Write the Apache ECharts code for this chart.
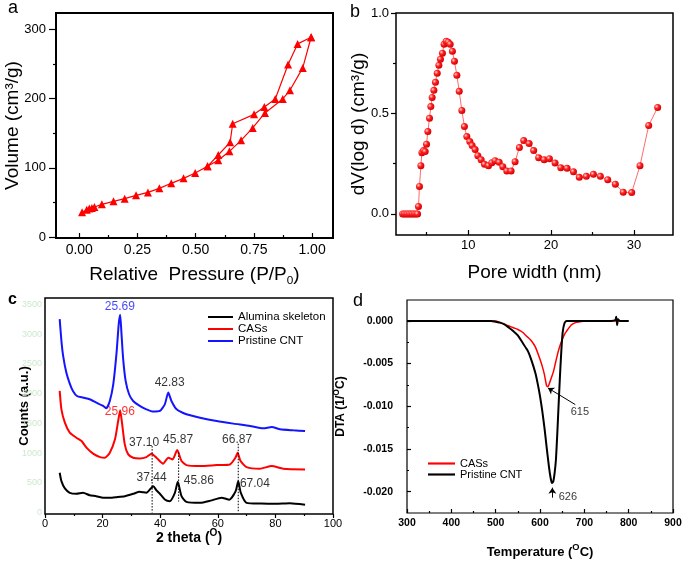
<!DOCTYPE html>
<html>
<head>
<meta charset="utf-8">
<script src="https://cdn.jsdelivr.net/npm/echarts@6/dist/echarts.min.js"></script>
<style>
html, body { margin: 0; padding: 0; background: #fff; }
#chart { width: 686px; height: 563px; }
</style>
</head>
<body>
<div id="chart"></div>
<script>
// ---- a: N2 sorption isotherm ----
const adsP = [0.012, 0.032, 0.043, 0.054, 0.065, 0.097, 0.147, 0.195, 0.244, 0.295, 0.344, 0.395, 0.448, 0.498, 0.551, 0.597, 0.645, 0.695, 0.745, 0.798, 0.874, 0.905, 0.960, 0.996];
const adsV = [35.6, 39.5, 41.0, 42.0, 43.4, 47.2, 51.5, 55.4, 60.2, 64.5, 70.3, 77.6, 84.8, 92.6, 102.2, 110.9, 123.9, 139.8, 157.7, 179.4, 199.7, 212.2, 244.6, 288.9];
const desP = [0.996, 0.938, 0.897, 0.842, 0.795, 0.751, 0.659, 0.648, 0.597, 0.551];
const desV = [288.9, 279.3, 249.4, 199.7, 188.1, 177.4, 163.8, 136.9, 118.6, 102.2];

// ---- b: pore size distribution ----
const poreW = [2.1, 2.3, 2.5, 2.7, 2.9, 3.1, 3.3, 3.5, 3.7, 3.9, 4.01, 4.13, 4.3, 4.42, 4.62, 4.82, 4.98, 5.14, 5.34, 5.5, 5.66, 5.87, 6.06, 6.27, 6.47, 6.66, 6.9, 7.1, 7.35, 7.6, 7.83, 8.1, 8.35, 8.64, 8.92, 9.24, 9.55, 9.84, 10.2, 10.48, 10.84, 11.17, 11.57, 11.97, 12.45, 12.86, 13.25, 13.74, 14.18, 14.66, 15.18, 15.66, 16.18, 16.7, 17.35, 17.9, 18.5, 19.16, 19.8, 20.48, 21.17, 21.93, 22.7, 23.4, 24.25, 25.1, 25.94, 26.83, 27.75, 28.7, 29.72, 30.72, 31.77, 32.85];
const dV = [0, 0, 0, 0, 0, 0, 0, 0, 0, 0, 0.037, 0.137, 0.24, 0.305, 0.315, 0.31, 0.347, 0.41, 0.476, 0.534, 0.58, 0.615, 0.655, 0.70, 0.74, 0.77, 0.80, 0.845, 0.86, 0.855, 0.845, 0.81, 0.76, 0.69, 0.61, 0.515, 0.435, 0.385, 0.36, 0.34, 0.32, 0.29, 0.27, 0.247, 0.24, 0.255, 0.265, 0.257, 0.235, 0.214, 0.214, 0.26, 0.33, 0.365, 0.35, 0.315, 0.28, 0.27, 0.275, 0.254, 0.23, 0.227, 0.21, 0.182, 0.187, 0.197, 0.187, 0.17, 0.148, 0.108, 0.106, 0.24, 0.44, 0.53];

// ---- c: XRD ----
const aluT = [5.1, 5.7, 6.9, 8.6, 10.9, 13.2, 15.5, 17.8, 20.2, 22.5, 24.8, 27.7, 30.6, 32.9, 35.2, 37.6, 38.7, 39.9, 41.6, 43.3, 45.1, 46.1, 47.4, 49.1, 53.8, 57.5, 61.3, 64.0, 66.2, 67.1, 68.0, 70.0, 75.0, 80.0, 85.0, 90.3];
const aluI = [669, 528, 405, 332, 315, 332, 292, 275, 247, 247, 258, 275, 315, 349, 332, 444, 371, 315, 219, 191, 332, 517, 275, 180, 163, 200, 250, 215, 360, 528, 330, 163, 150, 146, 155, 129];
const casT = [5.1, 5.7, 6.9, 8.6, 10.9, 12.7, 14.4, 16.7, 19.1, 20.8, 22.5, 24.3, 25.4, 26.1, 26.8, 27.7, 28.9, 30.6, 32.9, 35.2, 37.0, 38.7, 41.0, 42.8, 44.3, 45.9, 47.4, 49.1, 53.8, 59.6, 64.2, 66.1, 66.9, 67.9, 70.0, 74.6, 78.7, 82.7, 90.3];
const casI = [2046, 1737, 1512, 1344, 1259, 1203, 1091, 990, 933, 922, 1007, 1231, 1540, 1720, 1484, 1147, 978, 922, 911, 933, 990, 922, 821, 922, 894, 1051, 866, 798, 781, 798, 809, 922, 1007, 866, 764, 737, 781, 737, 725];
const cntT = [5.1, 5.7, 6.3, 7.4, 8.6, 9.7, 11.1, 13.2, 15.5, 17.8, 20.2, 21.3, 22.5, 23.7, 24.8, 25.6, 26.1, 26.5, 27.1, 28.0, 29.2, 30.6, 32.9, 35.2, 37.6, 39.9, 41.6, 42.8, 43.9, 45.7, 49.1, 53.8, 59.6, 65.4, 71.2, 75.8, 78.7, 81.6, 86.2, 90.3];
const cntI = [3255, 2889, 2636, 2355, 2170, 2046, 1961, 1934, 1906, 1850, 1793, 1754, 1877, 2158, 2664, 3170, 3327, 3057, 2608, 2214, 1990, 1877, 1793, 1737, 1698, 1709, 1821, 2018, 1877, 1737, 1653, 1596, 1540, 1496, 1456, 1416, 1439, 1400, 1383, 1371];
const peakText = ['25.69', '42.83', '25.96', '37.10', '45.87', '66.87', '37.44', '45.86', '67.04'];
const peakX = [26.0, 43.3, 26.0, 34.4, 46.2, 66.7, 37.0, 53.4, 72.9];
const peakY = [3470, 2192, 1698, 1175, 1231, 1231, 585, 540, 484];
const peakOf = ['cnt', 'alu', 'cas', 'alu', 'alu', 'alu', 'alu', 'alu', 'alu'];
const dropX = [37.2, 46.4, 67.1];
const dropTop = [1118, 1011, 1158];
const dropBottom = [0, 185, 0];

// ---- d: DTA ----
const casDtaT = [300, 400, 500, 510, 520, 530, 540, 550, 560, 570, 580, 590, 600, 605, 610, 615, 618, 622, 626, 630, 635, 640, 645, 650, 655, 660, 670, 680, 690, 700, 800];
const casDta = [0, 0, 0, -0.0002, -0.0004, -0.0006, -0.0008, -0.0010, -0.0013, -0.0018, -0.0023, -0.0031, -0.0045, -0.0053, -0.0063, -0.0076, -0.0077, -0.0072, -0.0066, -0.0060, -0.0049, -0.0038, -0.0029, -0.0022, -0.0016, -0.0012, -0.0005, -0.0002, -0.0001, 0, 0];
const cntDtaT = [300, 350, 400, 450, 490, 500, 510, 520, 530, 540, 550, 560, 570, 575, 580, 585, 590, 595, 600, 605, 610, 615, 620, 624, 627, 630, 633, 636, 639, 642, 645, 648, 651, 655, 660, 700, 760, 770, 772, 774, 776, 780, 800];
const cntDta = [0, 0, 0, 0, 0, -0.0001, -0.0002, -0.0004, -0.0008, -0.0012, -0.0017, -0.0025, -0.0033, -0.0038, -0.0045, -0.0053, -0.0062, -0.0074, -0.0088, -0.0105, -0.0125, -0.0148, -0.0170, -0.0184, -0.0190, -0.0188, -0.0178, -0.0162, -0.0132, -0.0098, -0.0065, -0.0036, -0.0014, -0.0003, 0, 0, 0, 0.0001, 0.0005, -0.0005, 0.0002, 0, 0];
const dtaLabelText = ['615', '626'];
const dtaLabelX = [690, 663];
const dtaLabelY = [-0.01062, -0.02063];
const arrowFrom = [[679.6, -0.0098], [627.8, -0.0207]];
const arrowTo = [[618, -0.00786], [627.8, -0.01953]];

const FONT = "'Liberation Sans', Arial, sans-serif";
const BLUE = '#1414ff', RED = '#ff0000', BLACK = '#000000';
const LINE_ICON = 'path://M0,0L25,0L25,2L0,2Z';
const zip = (xs, ys) => xs.map((x, i) => [x, ys[i]]);

// a labelled axis with the major ticks, plus a label-less twin that carries
// the minor ticks and the axis title
function axes(dim, gi, o) {
  const pos = dim === 'x' ? 'bottom' : 'left';
  const base = {
    type: 'value', gridIndex: gi, min: o.min, max: o.max, position: pos,
    splitLine: { show: false }, axisLine: { show: false, onZero: false }
  };
  const major = Object.assign({}, base, {
    axisTick: { show: o.majorLen > 0, inside: o.inside, length: o.majorLen, customValues: o.major, lineStyle: { color: '#000', width: 1.2 } },
    axisLabel: {
      show: true, customValues: o.labels || o.major, margin: o.margin,
      formatter: o.fmt, fontFamily: FONT, fontSize: o.fontSize, color: o.color || '#000', fontWeight: o.bold ? 'bold' : 'normal'
    }
  });
  const minor = Object.assign({}, base, {
    axisLabel: { show: false },
    axisTick: { show: o.minor.length > 0, inside: o.inside, length: o.minorLen, customValues: o.minor, lineStyle: { color: '#000', width: 1.2 } },
    name: o.name, nameLocation: 'middle', nameGap: o.nameGap, nameTextStyle: o.nameStyle
  });
  return [major, minor];
}

function nameStyle(size, bold) {
  const w = bold ? 'bold' : 'normal';
  return {
    fontFamily: FONT, fontSize: size, fontWeight: w, color: '#000',
    rich: {
      n: { fontFamily: FONT, fontSize: size, fontWeight: w, color: '#000', lineHeight: size + 6 },
      s: { fontFamily: FONT, fontSize: size * 0.62, fontWeight: w, color: '#000', verticalAlign: 'bottom' },
      p: { fontFamily: FONT, fontSize: size * 0.72, fontWeight: w, color: '#000', verticalAlign: 'top' }
    }
  };
}

const xAxes = [].concat(
  axes('x', 0, { min: -0.1, max: 1.09, major: [0, 0.25, 0.5, 0.75, 1], minor: [0.125, 0.375, 0.625, 0.875], inside: true, majorLen: 5, minorLen: 3, margin: 5, fontSize: 14, fmt: v => v.toFixed(2), name: '{n|Relative  Pressure (P/P}{s|0}{n|)}', nameGap: 24, nameStyle: nameStyle(19, false) }),
  axes('x', 1, { min: 1.3, max: 34.7, major: [10, 20, 30], minor: [5, 15, 25], inside: true, majorLen: 5, minorLen: 3, margin: 4, fontSize: 13, fmt: v => String(v), name: 'Pore width (nm)', nameGap: 28, nameStyle: nameStyle(19, false) }),
  axes('x', 2, { min: 0, max: 100, major: [0, 20, 40, 60, 80, 100], minor: [10, 30, 50, 70, 90], inside: false, majorLen: 4, minorLen: 2, margin: 4, fontSize: 11, fmt: v => String(v), name: '{n|2 theta (}{p|O}{n|)}', nameGap: 14, nameStyle: nameStyle(14, true) }),
  axes('x', 3, { min: 300, max: 900, major: [300, 400, 500, 600, 700, 800, 900], minor: [350, 450, 550, 650, 750, 850], inside: true, majorLen: 4, minorLen: 2, margin: 5, fontSize: 10.5, bold: true, fmt: v => String(v), name: '{n|Temperature (}{p|O}{n|C)}', nameGap: 30, nameStyle: nameStyle(13, true) })
);
const yAxes = [].concat(
  axes('y', 0, { min: -1.5, max: 324, major: [0, 100, 200, 300], minor: [50, 150, 250], inside: false, majorLen: 7, minorLen: 3, margin: 10, fontSize: 13, fmt: v => String(v), name: 'Volume (cm³/g)', nameGap: 34, nameStyle: nameStyle(19, false) }),
  axes('y', 1, { min: -0.105, max: 1.0, major: [0, 0.5, 1.0], minor: [0.25, 0.75], inside: false, majorLen: 5, minorLen: 3, margin: 7, fontSize: 13, fmt: v => v.toFixed(1), name: 'dV(log d) (cm³/g)', nameGap: 28, nameStyle: nameStyle(19, false) }),
  axes('y', 2, { min: -25, max: 3610, major: [0, 500, 1000, 1500, 2000, 2500, 3000, 3500], minor: [], inside: false, majorLen: 0, minorLen: 0, margin: 3, fontSize: 9, color: '#cde8cd', fmt: v => String(v), name: 'Counts (a.u.)', nameGap: 14, nameStyle: nameStyle(13, true) }),
  axes('y', 3, { min: -0.0225, max: 0.00245, major: [-0.02, -0.015, -0.01, -0.005, 0], minor: [-0.0175, -0.0125, -0.0075, -0.0025], inside: true, majorLen: 4, minorLen: 2, margin: 14, fontSize: 10.5, bold: true, fmt: v => v.toFixed(3), name: '{n|DTA (1/}{p|O}{n|C)}', nameGap: 57, nameStyle: nameStyle(12, true) })
);

const grids = [
  { left: 56, top: 13, width: 277, height: 225, borderWidth: 2 },
  { left: 396, top: 13, width: 277, height: 222, borderWidth: 1.5 },
  { left: 45, top: 298, width: 288, height: 216, borderWidth: 1.5 },
  { left: 407, top: 300, width: 266, height: 213, borderWidth: 1.2 }
].map(g => Object.assign({ show: true, borderColor: '#000', backgroundColor: 'transparent' }, g));

const peakColor = { cnt: BLUE, cas: RED, alu: BLACK };
const ax = i => ({ xAxisIndex: 2 * i, yAxisIndex: 2 * i });

const series = [
  Object.assign({
    type: 'line', name: 'isotherm', data: zip(adsP, adsV).concat(zip(desP, desV)),
    symbol: 'triangle', symbolSize: 8, itemStyle: { color: RED }, lineStyle: { color: RED, width: 1.2 }
  }, ax(0)),
  Object.assign({
    type: 'line', name: 'psd', data: zip(poreW, dV), symbol: 'circle', symbolSize: 7,
    itemStyle: { color: new echarts.graphic.RadialGradient(0.35, 0.35, 0.65, [
      { offset: 0, color: '#ffd6d6' }, { offset: 0.45, color: '#ff2222' }, { offset: 1, color: '#d40000' }]) },
    lineStyle: { color: '#ff6b6b', width: 1 }
  }, ax(1)),
  Object.assign({ type: 'line', name: 'Alumina skeleton', data: zip(aluT, aluI), showSymbol: false, symbol: 'none', smooth: 0.2, lineStyle: { color: BLACK, width: 2 }, itemStyle: { color: BLACK } }, ax(2)),
  Object.assign({ type: 'line', name: 'CASs', data: zip(casT, casI), showSymbol: false, symbol: 'none', smooth: 0.2, lineStyle: { color: RED, width: 2 }, itemStyle: { color: RED } }, ax(2)),
  Object.assign({ type: 'line', name: 'Pristine CNT', data: zip(cntT, cntI), showSymbol: false, symbol: 'none', smooth: 0.2, lineStyle: { color: BLUE, width: 2 }, itemStyle: { color: BLUE } }, ax(2))
];
dropX.forEach((x, i) => series.push(Object.assign({
  type: 'line', name: 'drop' + i, data: [[x, dropTop[i]], [x, dropBottom[i]]], symbol: 'none',
  lineStyle: { color: '#000', width: 1, type: [1.5, 1.5] }
}, ax(2))));
series.push(Object.assign({
  type: 'scatter', name: 'peaks', symbolSize: 1, itemStyle: { color: 'transparent' },
  data: peakText.map((t, i) => ({ name: t, value: [peakX[i], peakY[i]], label: { color: peakColor[peakOf[i]] } })),
  label: { show: true, position: 'inside', formatter: '{b}', fontFamily: FONT, fontSize: 12 }
}, ax(2)));
series.push(Object.assign({ type: 'line', name: 'CASs ', data: zip(casDtaT, casDta), showSymbol: false, symbol: 'none', smooth: 0.2, lineStyle: { color: RED, width: 1.5 }, itemStyle: { color: RED } }, ax(3)));
series.push(Object.assign({
  type: 'line', name: 'Pristine CNT ', data: zip(cntDtaT, cntDta), showSymbol: false, symbol: 'none', smooth: 0.2,
  lineStyle: { color: BLACK, width: 2 }, itemStyle: { color: BLACK },
  markLine: {
    silent: true, symbol: ['none', 'arrow'], symbolSize: 6, label: { show: false },
    lineStyle: { color: '#000', width: 1, type: 'solid' },
    data: arrowFrom.map((f, i) => [{ coord: f }, { coord: arrowTo[i] }])
  }
}, ax(3)));
series.push(Object.assign({
  type: 'scatter', name: 'dtaLabels', symbolSize: 1, itemStyle: { color: 'transparent' },
  data: dtaLabelText.map((t, i) => ({ name: t, value: [dtaLabelX[i], dtaLabelY[i]] })),
  label: { show: true, position: 'inside', formatter: '{b}', fontFamily: FONT, fontSize: 11, color: '#000' }
}, ax(3)));

const chart = echarts.init(document.getElementById('chart'), null, { renderer: 'canvas' });
chart.setOption({
  animation: false,
  backgroundColor: '#fff',
  grid: grids,
  xAxis: xAxes,
  yAxis: yAxes,
  legend: [
    { orient: 'vertical', left: 208, top: 311, padding: 0, itemGap: 0, itemWidth: 25, itemHeight: 14, selectedMode: false, icon: LINE_ICON,
      data: ['Alumina skeleton', 'CASs', 'Pristine CNT'], textStyle: { fontFamily: FONT, fontSize: 11.5, color: '#000' } },
    { orient: 'vertical', left: 428, top: 458, padding: 0, itemGap: 0, itemWidth: 27, itemHeight: 13, selectedMode: false, icon: LINE_ICON,
      data: ['CASs ', 'Pristine CNT '], textStyle: { fontFamily: FONT, fontSize: 11, color: '#000' } }
  ],
  graphic: [
    { type: 'text', x: 8, y: 8.4, style: { text: 'a', font: '18px ' + FONT, fill: '#000', verticalAlign: 'middle' } },
    { type: 'text', x: 350, y: 11.7, style: { text: 'b', font: '18px ' + FONT, fill: '#000', verticalAlign: 'middle' } },
    { type: 'text', x: 8, y: 299.5, style: { text: 'c', font: 'bold 16px ' + FONT, fill: '#000', verticalAlign: 'middle' } },
    { type: 'text', x: 353, y: 301.3, style: { text: 'd', font: '18px ' + FONT, fill: '#000', verticalAlign: 'middle' } }
  ],
  series: series
});
</script>
</body>
</html>
